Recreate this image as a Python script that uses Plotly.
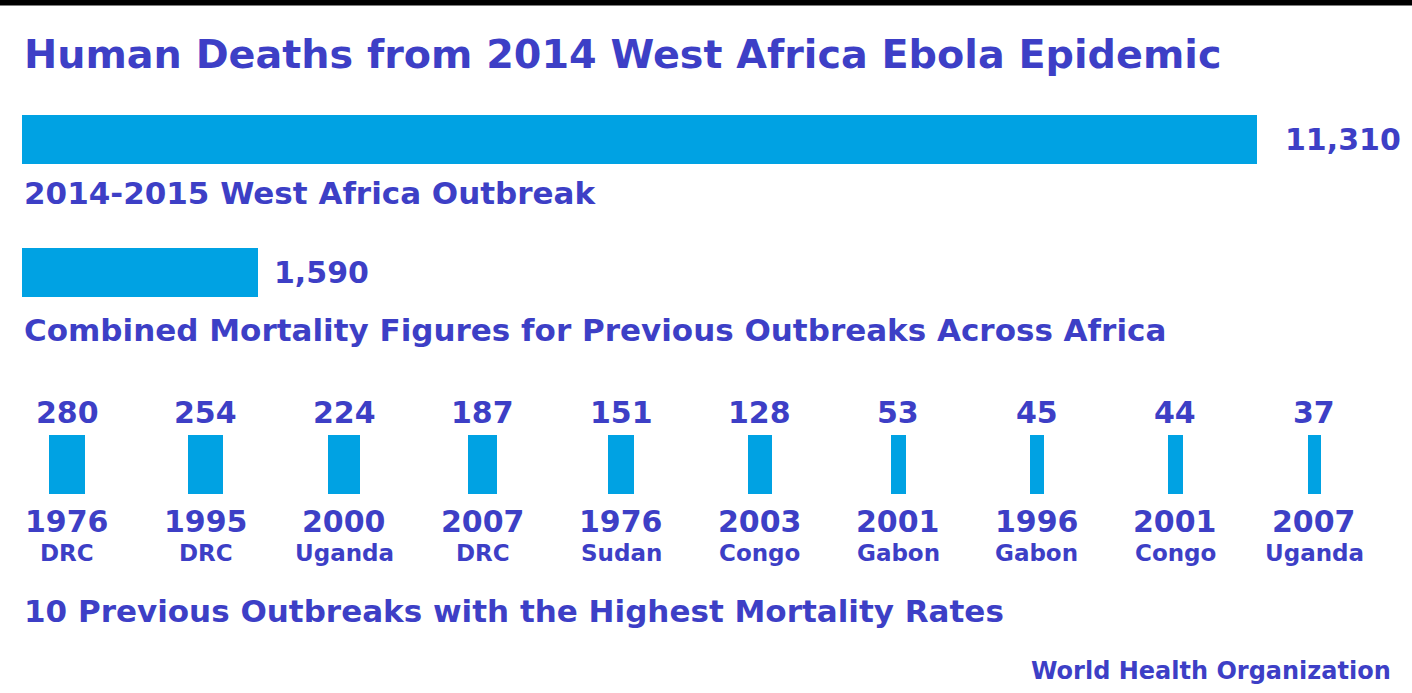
import numpy as np
import plotly.graph_objects as go

W, H = 1412, 693

title = "Human Deaths from 2014 West Africa Ebola Epidemic"
main_labels = ["2014-2015 West Africa Outbreak",
               "Combined Mortality Figures for Previous Outbreaks Across Africa"]
main_values = [11310, 1590]
outbreak_deaths = [280, 254, 224, 187, 151, 128, 53, 45, 44, 37]
outbreak_years = ["1976", "1995", "2000", "2007", "1976", "2003", "2001", "1996", "2001", "2007"]
outbreak_places = ["DRC", "DRC", "Uganda", "DRC", "Sudan", "Congo", "Gabon", "Gabon", "Congo", "Uganda"]
section_label = "10 Previous Outbreaks with the Highest Mortality Rates"
source = "World Health Organization"

BAR = "#00a2e3"
TXT = "#3d3fc6"
FONT = "DejaVu Sans"


def py(px):
    return 1 - px / H


def px_(px):
    return px / W


# small-bar layout: index spacing in pixels
STEP = 138.56
X0 = 67.0

fig = go.Figure()

# two headline bars on a log axis starting at 1,000
fig.add_trace(go.Bar(
    x=main_values, y=[0, 1], orientation="h", width=0.361,
    marker=dict(color=BAR, line=dict(width=0)),
    xaxis="x", yaxis="y", hoverinfo="x", showlegend=False))

# ten previous outbreaks
idx = list(range(len(outbreak_deaths)))
fig.add_trace(go.Bar(
    x=idx, y=[1] * len(idx),
    width=[2.15 * np.sqrt(v) / STEP for v in outbreak_deaths],
    marker=dict(color=BAR, line=dict(width=0)),
    customdata=outbreak_deaths, hovertemplate="%{customdata}<extra></extra>",
    xaxis="x2", yaxis="y2", showlegend=False))

ann = []
# title
ann.append(dict(text="<b>%s</b>" % title, x=px_(22), y=py(54), xref="paper", yref="paper",
                xanchor="left", yanchor="middle", showarrow=False,
                font=dict(size=39.7, color=TXT, family=FONT)))
# headline labels
label_y = [193, 330]
for lab, ly in zip(main_labels, label_y):
    ann.append(dict(text="<b>%s</b>" % lab, x=px_(22), y=py(ly), xref="paper", yref="paper",
                    xanchor="left", yanchor="middle", showarrow=False,
                    font=dict(size=31, color=TXT, family=FONT)))
# headline values
shifts = [26, 14]
for i, (v, s) in enumerate(zip(main_values, shifts)):
    ann.append(dict(text="<b>{:,}</b>".format(v), x=np.log10(v), y=i, xref="x", yref="y",
                    xanchor="left", yanchor="middle", xshift=s, showarrow=False,
                    font=dict(size=30, color=TXT, family=FONT)))
# small-bar labels
for i, (v, yr, pl) in enumerate(zip(outbreak_deaths, outbreak_years, outbreak_places)):
    ann.append(dict(text="<b>%d</b>" % v, x=i, y=py(412), xref="x2", yref="paper",
                    xanchor="center", yanchor="middle", showarrow=False,
                    font=dict(size=30, color=TXT, family=FONT)))
    ann.append(dict(text="<b>%s</b>" % yr, x=i, y=py(521), xref="x2", yref="paper",
                    xanchor="center", yanchor="middle", showarrow=False,
                    font=dict(size=30, color=TXT, family=FONT)))
    ann.append(dict(text="<b>%s</b>" % pl, x=i, y=py(553), xref="x2", yref="paper",
                    xanchor="center", yanchor="middle", showarrow=False,
                    font=dict(size=23, color=TXT, family=FONT)))
ann.append(dict(text="<b>%s</b>" % section_label, x=px_(22), y=py(611), xref="paper", yref="paper",
                xanchor="left", yanchor="middle", showarrow=False,
                font=dict(size=31, color=TXT, family=FONT)))
ann.append(dict(text="<b>%s</b>" % source, x=px_(1393), y=py(671), xref="paper", yref="paper",
                xanchor="right", yanchor="middle", showarrow=False,
                font=dict(size=24, color=TXT, family=FONT)))

fig.update_layout(
    width=W, height=H,
    margin=dict(l=0, r=0, t=0, b=0),
    paper_bgcolor="white", plot_bgcolor="rgba(0,0,0,0)",
    bargap=0,
    xaxis=dict(type="log", range=[3, 4.186], domain=[px_(22), 1], visible=False,
               fixedrange=True),
    yaxis=dict(range=[1.5, -0.5], domain=[py(338.5), py(72.5)], visible=False,
               fixedrange=True),
    xaxis2=dict(range=[-X0 / STEP, (W - X0) / STEP], domain=[0, 1], anchor="y2",
                visible=False, fixedrange=True),
    yaxis2=dict(range=[0, 1], domain=[py(494), py(435)], anchor="x2", visible=False,
                fixedrange=True),
    annotations=ann,
    shapes=[dict(type="rect", xref="paper", yref="paper", x0=0, x1=1, y0=py(5.5), y1=1,
                 fillcolor="black", line=dict(width=0), layer="above")],
)

fig.write_html("out.html")
